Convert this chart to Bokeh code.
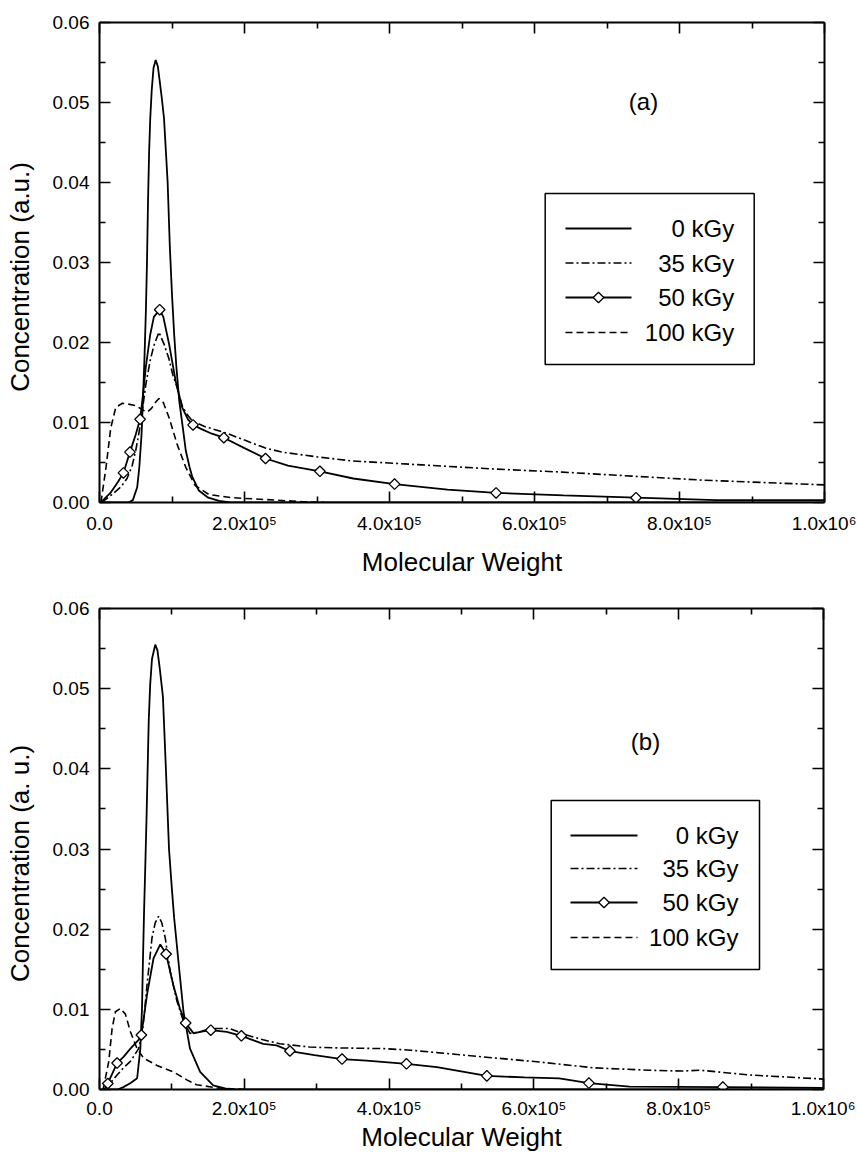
import numpy as np
from bokeh.plotting import figure
from bokeh.models import (FixedTicker, PrintfTickFormatter, LinearAxis, Label,
                          BoxAnnotation, Range1d, CustomJSTickFormatter)
from bokeh.layouts import column
from bokeh.embed import file_html
from bokeh.resources import INLINE

FONT = "Liberation Sans"

# ---------------- ticks / labels ----------------
X_TICKS = [0, 200000, 400000, 600000, 800000, 1000000]
X_TICK_LABELS = ["0.0", "2.0x10\u2075", "4.0x10\u2075", "6.0x10\u2075", "8.0x10\u2075", "1.0x10\u2076"]
X_MINOR_TICKS = [100000, 300000, 500000, 700000, 900000]
Y_TICKS = [0.0, 0.01, 0.02, 0.03, 0.04, 0.05, 0.06]
Y_MINOR_TICKS = [0.005, 0.015, 0.025, 0.035, 0.045, 0.055]

SERIES_LABELS = ["0 kGy", "35 kGy", "50 kGy", "100 kGy"]

# ---------------- panel (a) data (x in units of 1e3) ----------------
A_0_X = [0, 40, 46, 52, 55, 58, 60, 62, 64, 65.5, 67, 68.5, 70, 72, 74.5, 77.5, 80.5, 83,
         86, 89, 91.5, 94, 97, 100, 103, 106, 110, 115, 119, 124, 128, 137, 150, 165, 180, 1000]
A_0_Y = [0, 0, 0.0003, 0.0019, 0.0045, 0.0085, 0.013, 0.018, 0.024, 0.030, 0.038, 0.044,
         0.048, 0.0515, 0.0543, 0.0553, 0.0545, 0.0527, 0.0505, 0.048, 0.044, 0.040, 0.032,
         0.026, 0.021, 0.017, 0.0127, 0.0093, 0.0065, 0.0045, 0.0032, 0.0015, 0.0006, 0.0002,
         0, 0]

A_35_X = [3, 10, 20, 30, 38, 45, 50, 55, 58, 64, 70, 75, 82, 89, 96, 101, 107, 114, 120,
          128, 145, 174, 200, 229, 252, 300, 348, 445, 541, 638, 734, 831, 1000]
A_35_Y = [0, 0.0005, 0.0012, 0.002, 0.003, 0.0046, 0.0065, 0.009, 0.0108, 0.0148, 0.0178,
          0.0196, 0.0213, 0.0198, 0.0179, 0.016, 0.0144, 0.0121, 0.0111, 0.0102, 0.0095,
          0.0087, 0.0078, 0.0068, 0.0063, 0.0057, 0.0052, 0.0047, 0.0042, 0.0038, 0.0033,
          0.0028, 0.0022]

A_50_X = [4, 15, 25, 33, 42, 50, 56, 60, 64, 70, 75, 83, 88, 96, 105, 114, 122, 129, 140,
          155, 171.5, 200, 229, 260, 304, 350, 407, 480, 547, 640, 740, 850, 1000]
A_50_Y = [0.0002, 0.0012, 0.0025, 0.0037, 0.0063, 0.0085, 0.0104, 0.0135, 0.017, 0.021,
          0.0232, 0.0241, 0.0232, 0.0198, 0.0152, 0.0119, 0.0104, 0.0097, 0.0092, 0.0086,
          0.0081, 0.0068, 0.0055, 0.0046, 0.0039, 0.003, 0.0023, 0.0016, 0.0012, 0.0009,
          0.0006, 0.0003, 0.0003]
A_50_MARK_X = [33, 42, 56, 83, 129, 171.5, 229, 304, 407, 547, 740]
A_50_MARK_Y = [0.0037, 0.0063, 0.0104, 0.0241, 0.0097, 0.0081, 0.0055, 0.0039, 0.0023, 0.0012, 0.0006]

A_100_X = [2, 9, 15.5, 22.5, 31.6, 40, 50, 61, 66, 72, 77, 82, 88, 96, 107, 119, 132,
           151, 183, 242, 280, 310]
A_100_Y = [0, 0.0044, 0.0093, 0.0119, 0.0124, 0.0123, 0.0121, 0.0115, 0.0113, 0.0118,
           0.0125, 0.013, 0.0125, 0.0106, 0.0073, 0.0044, 0.0021, 0.001, 0.0006, 0.0003,
           0.0001, 0]

# ---------------- panel (b) data (x in units of 1e3) ----------------
B_0_X = [0, 25, 33, 43, 52, 56.4, 58.7, 60, 61.5, 63, 65, 66.5, 68, 70, 72.5, 77, 80, 83,
         87.6, 91.7, 96, 100, 103, 109, 116, 125, 139, 157, 180, 1000]
B_0_Y = [0, 0, 0.0003, 0.0008, 0.0014, 0.0051, 0.0101, 0.016, 0.022, 0.027, 0.034, 0.040,
         0.046, 0.0505, 0.0537, 0.0555, 0.0548, 0.0527, 0.049, 0.040, 0.030, 0.025, 0.0215,
         0.016, 0.0097, 0.0051, 0.0022, 0.0005, 0, 0]

B_35_X = [5.5, 15, 24.3, 33, 42.7, 54, 58.7, 62, 65.6, 72.5, 77, 81.6, 86, 90.8, 97.7,
          107, 116, 125, 139, 152.7, 180, 203, 226, 249, 290, 321, 393, 430, 466, 538,
          611, 683, 760, 804, 830, 900, 1000]
B_35_Y = [0, 0.0008, 0.0018, 0.0027, 0.0035, 0.0051, 0.0068, 0.0095, 0.013, 0.0189,
          0.0208, 0.0216, 0.0208, 0.0189, 0.0147, 0.011, 0.0085, 0.007, 0.0072, 0.0076,
          0.0076, 0.0068, 0.0062, 0.0057, 0.0053, 0.0052, 0.0051, 0.0049, 0.0046, 0.004,
          0.0034, 0.0027, 0.0024, 0.0023, 0.0024, 0.0018, 0.0013]

B_50_X = [8, 11.5, 24.3, 33.5, 42.7, 54, 57.8, 65.6, 74.7, 84, 92, 102, 111, 119, 130,
          139, 153.7, 175.7, 196, 226, 244.5, 263, 297, 335, 369, 424, 466, 535, 587,
          635, 676, 732, 861, 1000]
B_50_Y = [0.0003, 0.00075, 0.0033, 0.0041, 0.0051, 0.0062, 0.0068, 0.0118, 0.0164,
          0.0181, 0.0169, 0.013, 0.0101, 0.0083, 0.007, 0.0072, 0.0074, 0.0072, 0.0067,
          0.0057, 0.0055, 0.0048, 0.0043, 0.0038, 0.0036, 0.0032, 0.0028, 0.0017, 0.0015,
          0.0014, 0.0008, 0.00035, 0.0003, 0.0002]
B_50_MARK_X = [11.5, 24.3, 57.8, 92, 119, 153.7, 196, 263, 335, 424, 535, 676, 861]
B_50_MARK_Y = [0.00075, 0.0033, 0.0068, 0.0169, 0.0083, 0.0074, 0.0067, 0.0048, 0.0038,
               0.0032, 0.0017, 0.0008, 0.0003]

B_100_X = [5, 12.8, 17.4, 22, 28.9, 35.8, 42.7, 51.9, 61, 79.4, 102, 120.6, 134, 162, 200]
B_100_Y = [0, 0.0035, 0.0076, 0.0097, 0.0101, 0.0094, 0.0072, 0.0051, 0.0039, 0.003,
           0.0022, 0.0012, 0.0006, 0.0002, 0]

DASHES = ["solid", "8 3 2 3", "solid", "7 4"]
X_MAX = 1.0e6
Y_MAX = 0.06
PAD = "\u00a0" * 4  # shifts the rotated y title slightly downwards, as in the original


def style_axis(ax, ticks, minor, labels=True, standoff=10):
    ax.ticker = FixedTicker(ticks=ticks, minor_ticks=minor)
    ax.axis_line_width = 2
    ax.axis_line_color = "black"
    ax.major_tick_in = 11
    ax.major_tick_out = 0
    ax.minor_tick_in = 6
    ax.minor_tick_out = 0
    ax.major_tick_line_width = 1.6
    ax.minor_tick_line_width = 1.6
    ax.major_tick_line_color = "black"
    ax.minor_tick_line_color = "black"
    ax.major_label_text_font = FONT
    ax.major_label_text_font_size = "19px"
    ax.major_label_text_color = "black"
    ax.major_label_standoff = standoff
    ax.axis_label_text_font = FONT
    ax.axis_label_text_font_size = "26px"
    ax.axis_label_text_font_style = "normal"
    ax.axis_label_text_color = "black"
    if not labels:
        ax.formatter = CustomJSTickFormatter(code="return ''")
        ax.major_label_standoff = 0


def build_panel(series, marks, tag, geom):
    fl, ft, fw, fh, fig_w, fig_h = geom["fl"], geom["ft"], geom["fw"], geom["fh"], geom["W"], geom["H"]
    page_top = geom["page_top"]
    fb = ft + fh

    def px(ox, oy):
        return (ox - fl) / fw * X_MAX, (fb - oy) / fh * Y_MAX

    p = figure(frame_width=fw, frame_height=fh,
               x_range=Range1d(0, X_MAX), y_range=Range1d(0, Y_MAX),
               output_backend="svg", toolbar_location=None,
               min_border_left=fl, min_border_top=ft - page_top,
               min_border_right=fig_w - fl - fw,
               min_border_bottom=fig_h - (ft - page_top) - fh,
               background_fill_color="white", border_fill_color="white")
    p.xgrid.visible = False
    p.ygrid.visible = False
    p.outline_line_color = None

    xa = p.xaxis[0]
    style_axis(xa, X_TICKS, X_MINOR_TICKS, standoff=geom["xlabstand"])
    xa.major_label_overrides = {t: l for t, l in zip(X_TICKS, X_TICK_LABELS)}
    xa.axis_label = "Molecular Weight"
    xa.axis_label_standoff = geom["xstand"]
    ya = p.yaxis[0]
    style_axis(ya, Y_TICKS, Y_MINOR_TICKS)
    ya.formatter = PrintfTickFormatter(format="%.2f")
    ya.axis_label = geom["ylabel"] + PAD
    ya.axis_label_standoff = 15

    top = LinearAxis()
    style_axis(top, X_TICKS, X_MINOR_TICKS, labels=False)
    p.add_layout(top, "above")
    right = LinearAxis()
    style_axis(right, Y_TICKS, Y_MINOR_TICKS, labels=False)
    p.add_layout(right, "right")

    for i, (xs, ys) in enumerate(series):
        p.line([x * 1e3 for x in xs], ys, line_color="black",
               line_width=1.8 if DASHES[i] == "solid" else 1.6, line_dash=DASHES[i])
    mx, my = marks
    p.scatter([x * 1e3 for x in mx], my, marker="square", angle=np.pi / 4, size=7.5,
              fill_color="white", line_color="black", line_width=1.3)

    # legend
    lg = geom["legend"]
    x0, y0 = px(lg["left"], lg["top"])
    x1, y1 = px(lg["right"], lg["bottom"])
    p.add_layout(BoxAnnotation(left=x0, right=x1, top=y0, bottom=y1, fill_alpha=0,
                               line_color="black", line_alpha=1.0, line_width=1.5))
    sx0, _ = px(lg["s0"], 0)
    sx1, _ = px(lg["s1"], 0)
    tx, _ = px(lg["tr"], 0)
    for i, (lab, oy) in enumerate(zip(SERIES_LABELS, lg["rows"])):
        _, yy = px(0, oy)
        p.line([sx0, sx1], [yy, yy], line_color="black",
               line_width=1.8 if DASHES[i] == "solid" else 1.6, line_dash=DASHES[i])
        if i == 2:
            p.scatter([(sx0 + sx1) / 2], [yy], marker="square", angle=np.pi / 4, size=7.5,
                      fill_color="white", line_color="black", line_width=1.3)
        p.add_layout(Label(x=tx, y=yy, text=lab, text_align="right", text_baseline="middle",
                           text_font=FONT, text_font_size="24px", text_color="black"))

    # panel tag
    tgx, tgy = px(*geom["tag"])
    p.add_layout(Label(x=tgx, y=tgy, text=tag, text_align="center", text_baseline="middle",
                       text_font=FONT, text_font_size="24px", text_color="black"))
    return p


# page coordinates (Bokeh's page has no body margin)
geom_a = dict(fl=97, ft=22, fw=725, fh=480, W=855, H=578, page_top=0, xstand=10, xlabstand=10,
              legend=dict(left=542.7, right=751.7, top=193, bottom=364, s0=563, s1=629,
                          tr=731.7, rows=[228, 262.5, 297, 332]),
              tag=(641, 101), ylabel="Concentration (a.u.)")
geom_b = dict(fl=99, ft=607, fw=724, fh=481, W=855, H=576, page_top=578, xstand=0, xlabstand=8,
              legend=dict(left=550.7, right=759, top=799, bottom=968, s0=570, s1=637,
                          tr=738, rows=[834, 867, 901, 936]),
              tag=(645, 740), ylabel="Concentration (a. u.)")

pa = build_panel([(A_0_X, A_0_Y), (A_35_X, A_35_Y), (A_50_X, A_50_Y), (A_100_X, A_100_Y)],
                 (A_50_MARK_X, A_50_MARK_Y), "(a)", geom_a)
pb = build_panel([(B_0_X, B_0_Y), (B_35_X, B_35_Y), (B_50_X, B_50_Y), (B_100_X, B_100_Y)],
                 (B_50_MARK_X, B_50_MARK_Y), "(b)", geom_b)

layout = column(pa, pb, spacing=0)
open("out.html", "w").write(file_html(layout, INLINE))
